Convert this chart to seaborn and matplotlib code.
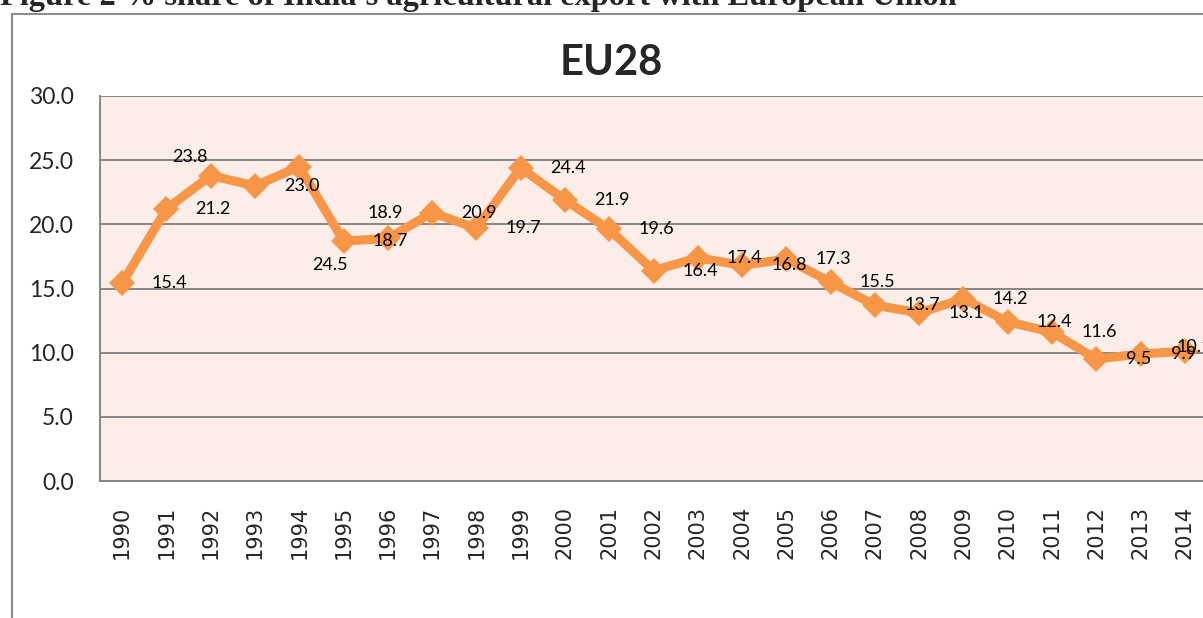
import pandas as pd
import numpy as np
import matplotlib.pyplot as plt
import seaborn as sns
from matplotlib.patches import Rectangle

# data
years = [str(y) for y in range(1990, 2015)]
share = [15.4, 21.2, 23.8, 23.0, 24.5, 18.7, 18.9, 20.9, 19.7, 24.4, 21.9, 19.6, 16.4,
         17.4, 16.8, 17.3, 15.5, 13.7, 13.1, 14.2, 12.4, 11.6, 9.5, 9.9, 10.1]
y_ticks = [0, 5, 10, 15, 20, 25, 30]

# where the data labels sit relative to their point (category units, value units)
label_dx = [1.06] * 25
label_dy = [0.0] * 25
label_dx[2], label_dy[2] = -0.47, 1.45
label_dx[4], label_dy[4] = 0.7, -7.7
label_dx[6], label_dy[6] = -0.06, 2.0
label_dx[22] = 0.96
label_dx[23] = 0.97
label_dx[24], label_dy[24] = 0.2, 0.35

df = pd.DataFrame({'year': years, 'share': share})

sns.set_style('white')
plt.rcParams['font.family'] = ['Lato', 'DejaVu Sans']

orange = '#F79646'
grid_col = '#868686'

fig = plt.figure(figsize=(12.03, 6.18), dpi=100)
W, H = 1203, 618

# outer chart frame (runs off the right and bottom edge)
fig.patches.append(Rectangle((12 / W, -0.1), 1.2, 1 - 14 / H + 0.1, transform=fig.transFigure,
                             fill=False, edgecolor='#8c8c8c', linewidth=1.5))

# caption clipped at the top
fig.text(0, 1 - 5 / H, "Figure 2 % share of India's agricultural export with European Union",
         family=['Liberation Serif'], fontweight='bold', fontsize=23.3, va='baseline', ha='left')

ax = fig.add_axes([100 / W, 1 - 481 / H, (1207 - 100) / W, (481 - 96) / H])
ax.set_facecolor('#FCEDE8')

sns.lineplot(data=df, x='year', y='share', ax=ax, color=orange, linewidth=6.5,
             marker='D', markersize=13.5, markeredgewidth=0, sort=False)

for i, v in enumerate(share):
    ax.text(i + label_dx[i], v + label_dy[i], f'{v:.1f}', ha='center', va='center',
            fontsize=13, color='black', clip_on=False)

ax.set_xlim(-0.5, len(years) - 0.5)
ax.set_ylim(0, 30)
ax.set_yticks(y_ticks)
ax.set_yticklabels([f'{t:.1f}' for t in y_ticks], fontsize=16.5)
ax.yaxis.grid(True, color=grid_col, linewidth=1.4)
ax.set_axisbelow(True)
ax.tick_params(axis='y', length=0, pad=19)
ax.tick_params(axis='x', length=0, pad=18)
for lab in ax.get_xticklabels():
    lab.set_rotation(90)
    lab.set_fontsize(15)
    lab.set_family(['DejaVu Sans'])
ax.set_xlabel('')
ax.set_ylabel('')
for s in ['left', 'bottom']:
    ax.spines[s].set_color(grid_col)
    ax.spines[s].set_linewidth(1.4)
ax.spines['top'].set_visible(False)
ax.spines['right'].set_visible(False)

fig.text(611 / W, 1 - 63 / H, 'EU28', fontsize=30, fontweight='bold', ha='center', va='center')

fig.savefig('out.png', dpi=100)
